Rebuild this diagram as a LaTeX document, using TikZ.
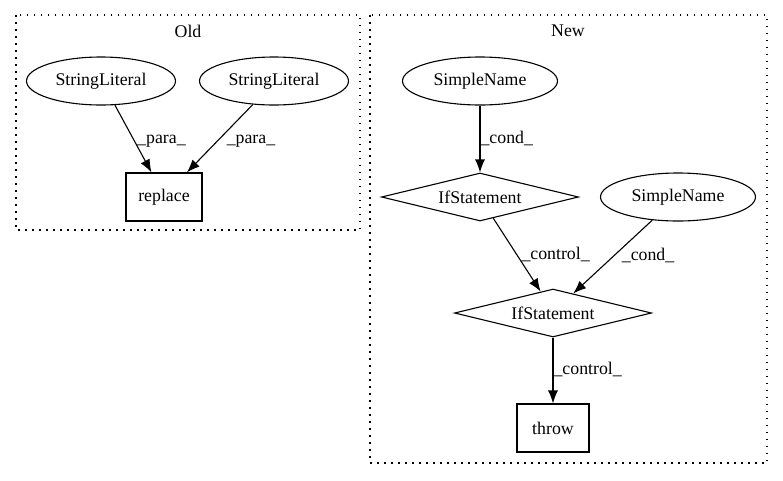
\documentclass[tikz,border=0pt]{standalone}
\usepackage{fontspec}
\setmainfont{Liberation Serif}
\usetikzlibrary{arrows.meta,%
		shapes.geometric}

\begin{document}
\begin{tikzpicture}[x=1pt,y=-1pt,line width=1.1pt,
	font=\fontsize{17.8pt}{20pt}\selectfont,
	cluster/.style={draw,dash pattern=on 1.5pt off 5.5pt},
	lit/.style={draw,ellipse,inner sep=0pt,minimum height=48pt},
	cond/.style={draw,diamond,aspect=4,inner sep=0pt,minimum width=197pt,minimum height=48pt},
	stmt/.style={draw,rectangle,inner sep=0pt,minimum height=48pt},
	flow/.style={-{Latex[length=13pt,width=10pt]}},
	lbl/.style={inner sep=0pt,anchor=west}]
\useasboundingbox (0,0) rectangle (783,480);

%vecchio
\draw[cluster] (16,15) rectangle (360,230);
\node (old) at (188,31) {Old};
\node[lit,minimum width=149pt] (sl1) at (101,81) {StringLiteral};
\node[lit,minimum width=149pt] (sl2) at (274,81) {StringLiteral};
\node[stmt,minimum width=76pt] (replace) at (164,197) {replace};
\draw[flow] (sl1.-60) -- node[lbl,pos=.54,xshift=2pt] {\_para\_} (replace.117);
\draw[flow] (sl2.-132) -- node[lbl,pos=.54,xshift=9pt] {\_para\_} (replace.47);

%nuovo
\draw[cluster] (370,15) rectangle (767,463);
\node (new) at (568,31) {New};
\node[lit,minimum width=155pt] (sn1) at (480,81) {SimpleName};
\node[cond] (if1) at (480,197) {IfStatement};
\node[lit,minimum width=155pt] (sn2) at (678,197) {SimpleName};
\node[cond] (if2) at (553,313) {IfStatement};
\node[stmt,minimum width=72pt] (throw) at (553,428) {throw};
\draw[flow] (sn1) -- node[lbl,pos=.49] {\_cond\_} (if1);
\draw[flow] (if1.-58) -- node[lbl,pos=.5,xshift=4pt] {\_control\_} (if2.120);
\draw[flow] (sn2.-138) -- node[lbl,pos=.48,xshift=7pt] {\_cond\_} (if2.44);
\draw[flow] (if2) -- node[lbl,pos=.49] {\_control\_} (throw);
\end{tikzpicture}
\end{document}
